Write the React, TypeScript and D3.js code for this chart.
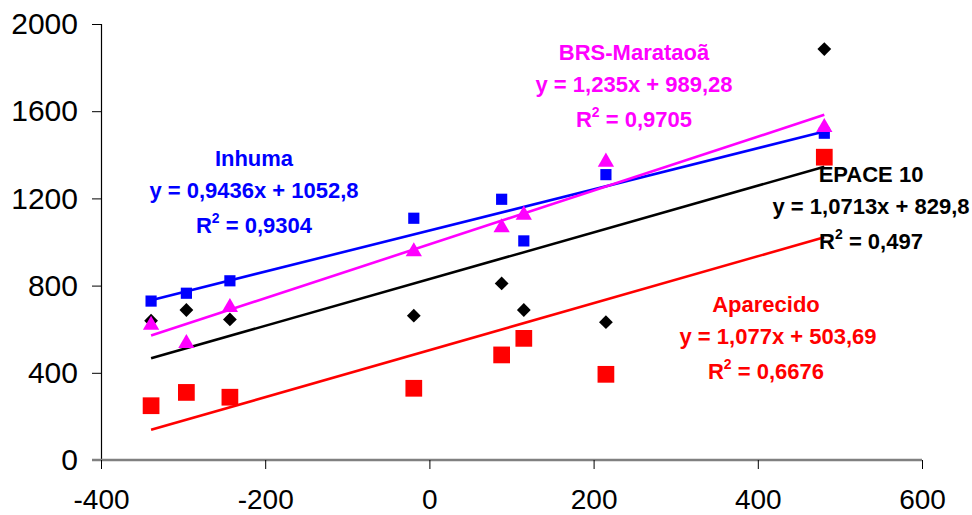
import React, { useRef, useEffect } from "react";
import * as d3 from "d3";

// x values shared by every cultivar
const xValues = [-339, -296, -243, -19, 88, 115, 215, 481];

// yields per cultivar, same order as xValues
const inhuma = [729, 765, 822, 1109, 1196, 1005, 1309, 1499];
const brsMarataoa = [619, 535, 700, 956, 1066, 1124, 1367, 1526];
const epace10 = [639, 688, 645, 662, 810, 688, 632, 1885];
const aparecido = [249, 310, 288, 329, 482, 558, 393, 1389];

// regression coefficients [slope, intercept]
const inhumaFit = [0.9436, 1052.8];
const brsFit = [1.235, 989.28];
const epaceFit = [1.0713, 829.8];
const aparecidoFit = [1.077, 503.69];

const xTicks = [-400, -200, 0, 200, 400, 600];
const yTicks = [0, 400, 800, 1200, 1600, 2000];

const App = () => {
  const svgRef = useRef();

  useEffect(() => {
    const svg = d3.select(svgRef.current);
    svg.selectAll("*").remove();

    const margin = { top: 24, left: 101 };
    const font = "'Liberation Sans', Arial, sans-serif";

    const x = d3.scaleLinear().domain([-400, 600]).range([margin.left, 922]);
    const y = d3.scaleLinear().domain([0, 2000]).range([460, margin.top]);

    // y axis
    const yAxis = svg
      .append("g")
      .attr("transform", `translate(${margin.left},0)`)
      .call(d3.axisLeft(y).tickValues(yTicks).tickSize(9).tickPadding(14).tickFormat((d) => String(d)));
    yAxis.select(".domain").attr("stroke", "#000").attr("stroke-width", 1.2);
    yAxis.selectAll(".tick line").attr("stroke", "#000");
    yAxis.selectAll("text").attr("font-family", font).attr("font-size", 30).attr("fill", "#000");

    // x axis (grey, at y = 0)
    const xAxis = svg
      .append("g")
      .attr("transform", `translate(0,${y(0)})`)
      .call(d3.axisBottom(x).tickValues(xTicks).tickSize(9).tickSizeOuter(0).tickPadding(20).tickFormat((d) => String(d)));
    xAxis.select(".domain").attr("stroke", "#808080").attr("stroke-width", 2.5)
      .attr("d", `M${margin.left - 9},0H${x(600)}`);
    xAxis.selectAll(".tick line").attr("stroke", "#000");
    xAxis.selectAll("text").attr("font-family", font).attr("font-size", 28).attr("fill", "#000");

    const series = [
      { name: "epace", values: epace10, fit: epaceFit, color: "#000000", shape: "diamond" },
      { name: "aparecido", values: aparecido, fit: aparecidoFit, color: "#FF0000", shape: "bigsquare" },
      { name: "inhuma", values: inhuma, fit: inhumaFit, color: "#0000FF", shape: "square" },
      { name: "brs", values: brsMarataoa, fit: brsFit, color: "#FF00FF", shape: "triangle" },
    ];

    const [x0, x1] = d3.extent(xValues);
    const line = d3.line().x((d) => x(d[0])).y((d) => y(d[1]));

    // trend lines
    series.forEach((s) => {
      const pts = [x0, x1].map((v) => [v, s.fit[0] * v + s.fit[1]]);
      svg.append("path").attr("d", line(pts)).attr("fill", "none")
        .attr("stroke", s.color).attr("stroke-width", 2.6);
    });

    const symbolFor = (shape) => {
      if (shape === "diamond") return d3.symbol().type(d3.symbolSquare).size(95)();
      if (shape === "bigsquare") return d3.symbol().type(d3.symbolSquare).size(280)();
      if (shape === "square") return d3.symbol().type(d3.symbolSquare).size(125)();
      return d3.symbol().type(d3.symbolTriangle).size(115)();
    };

    // markers
    series.forEach((s) => {
      svg.append("g")
        .selectAll("path")
        .data(s.values.map((v, i) => [xValues[i], v]))
        .join("path")
        .attr("d", symbolFor(s.shape))
        .attr("transform", (d) =>
          `translate(${x(d[0])},${y(d[1])})${s.shape === "diamond" ? " rotate(45)" : ""}`)
        .attr("fill", s.color);
    });

    // annotations
    const labels = [
      { cx: 254, top: 166, color: "#0000FF", title: "Inhuma", eq: "y = 0,9436x + 1052,8", r2: "0,9304" },
      { cx: 634, top: 60, color: "#FF00FF", title: "BRS-Marataoã", eq: "y = 1,235x + 989,28", r2: "0,9705" },
      { cx: 871, top: 182, color: "#000000", title: "EPACE 10", eq: "y = 1,0713x + 829,8", r2: "0,497" },
      { cx: 766, top: 312, color: "#FF0000", title: "Aparecido", eq: "y = 1,077x + 503,69", r2: "0,6676", eqDx: 12 },
    ];
    labels.forEach((l) => {
      const g = svg.append("g")
        .attr("font-family", font)
        .attr("font-weight", "bold")
        .attr("font-size", 22)
        .attr("fill", l.color)
        .attr("text-anchor", "middle");
      g.append("text").attr("x", l.cx).attr("y", l.top).text(l.title);
      g.append("text").attr("x", l.cx + (l.eqDx || 0)).attr("y", l.top + 32).text(l.eq);
      const r = g.append("text").attr("x", l.cx).attr("y", l.top + 67);
      r.append("tspan").text("R");
      r.append("tspan").attr("font-size", 14).attr("dy", -10).text("2");
      r.append("tspan").attr("dy", 10).text(" = " + l.r2);
    });
  }, []);

  return (
    <svg
      ref={svgRef}
      width={972}
      height={515}
      style={{ position: "absolute", left: 0, top: 0, background: "#fff" }}
    ></svg>
  );
};

export default App;
